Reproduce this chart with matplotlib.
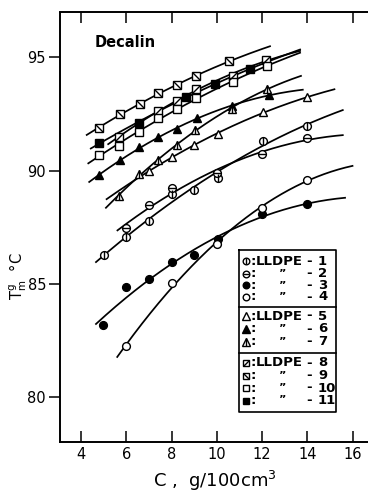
import numpy as np
import matplotlib
matplotlib.use("Agg")
import matplotlib.pyplot as plt
from matplotlib.path import Path

# ---------------- data ----------------
x1 = [5.0, 6.0, 7.0, 8.0, 9.0, 10.05, 12.05, 14.0]
y1 = [86.26, 87.07, 87.78, 88.98, 89.16, 89.69, 91.33, 91.99]
x2 = [6.0, 7.0, 8.0, 10.0, 12.0, 14.0]
y2 = [87.47, 88.50, 89.23, 89.90, 90.72, 91.44]
x3 = [4.95, 6.0, 7.0, 8.0, 9.0, 10.05, 12.0, 14.0]
y3 = [83.18, 84.87, 85.24, 85.97, 86.26, 86.97, 88.10, 88.54]
x4 = [6.0, 8.0, 10.0, 12.0, 14.0]
y4 = [82.26, 85.04, 86.75, 88.37, 89.60]
x5 = [7.0, 8.0, 9.0, 10.05, 12.05, 14.0]
y5 = [89.98, 90.59, 91.15, 91.63, 92.58, 93.24]
x6 = [4.78, 5.71, 6.54, 7.41, 8.25, 9.11, 10.65, 12.3]
y6 = [89.79, 90.45, 91.04, 91.48, 91.85, 92.31, 92.85, 93.34]
x7 = [5.68, 6.54, 7.38, 8.25, 9.03, 10.65, 12.2]
y7 = [88.88, 89.86, 90.45, 91.15, 91.80, 92.70, 93.62]
x8 = [5.68, 7.41, 8.25, 9.08, 10.7, 12.17]
y8 = [91.50, 92.65, 93.09, 93.61, 94.20, 94.88]
x9 = [4.78, 5.71, 6.6, 7.41, 8.25, 9.08, 10.55]
y9 = [91.90, 92.49, 92.93, 93.41, 93.80, 94.19, 94.83]
x10 = [4.78, 5.68, 6.54, 7.41, 8.25, 9.08, 10.7, 12.2]
y10 = [90.71, 91.10, 91.70, 92.33, 92.70, 93.21, 93.91, 94.63]
x11 = [4.8, 6.54, 8.63, 9.92, 11.48]
y11 = [91.22, 92.11, 93.27, 93.82, 94.49]

# extent of each fitted curve (C range)
curve_lo = [4.65, 5.6, 4.65, 5.59, 5.12, 4.35, 5.09, 5.19, 4.24, 4.31, 4.42]
curve_hi = [15.57, 15.57, 15.67, 16.0, 15.2, 13.8, 13.72, 13.68, 12.35, 13.68, 13.68]

series_labels = ["1", "2", "3", "4", "5", "6", "7", "8", "9", "10", "11"]
xticks = [4, 6, 8, 10, 12, 14, 16]
yticks = [80, 85, 90, 95]

# ---------------- marker shapes ----------------
vbar = Path([(0, -1), (0, 1)], [Path.MOVETO, Path.LINETO])
hbar = Path([(-1, 0), (1, 0)], [Path.MOVETO, Path.LINETO])
slash = Path([(-1, -1), (1, 1)], [Path.MOVETO, Path.LINETO])
bslash = Path([(-1, 1), (1, -1)], [Path.MOVETO, Path.LINETO])

# base marker, face colour, overlay path
styles = [
    ("o", "white", vbar),
    ("o", "white", hbar),
    ("o", "black", None),
    ("o", "white", None),
    ("^", "white", None),
    ("^", "black", None),
    ("^", "white", vbar),
    ("s", "white", slash),
    ("s", "white", bslash),
    ("s", "white", None),
    ("s", "black", None),
]
msize = {"o": 5.6, "^": 6.3, "s": 5.3}

xs = [x1, x2, x3, x4, x5, x6, x7, x8, x9, x10, x11]
ys = [y1, y2, y3, y4, y5, y6, y7, y8, y9, y10, y11]

W, H = 368, 494
fig = plt.figure(figsize=(W / 100, H / 100), dpi=100)
ax = fig.add_axes([60 / W, 1 - 441.5 / H, (369 - 60) / W, (441.5 - 12.5) / H])
ax.set_xlim(3.058, 16.73)
ax.set_ylim(78.05, 96.98)

for i in range(11):
    xa = np.array(xs[i]); ya = np.array(ys[i])
    c = np.polyfit(xa, ya, 2)
    xx = np.linspace(curve_lo[i], curve_hi[i], 200)
    ax.plot(xx, np.polyval(c, xx), color="black", lw=1.25, zorder=2)

def draw_markers(axis, x, y, st, transform=None, clip=True, scale=1.0):
    base, face, over = st
    kw = {}
    if transform is not None:
        kw["transform"] = transform
    ms = msize[base] * scale
    axis.plot(x, y, linestyle="none", marker=base, ms=ms, mfc=face,
              mec="black", mew=1.0, zorder=7, clip_on=clip, **kw)
    if over is not None:
        axis.plot(x, y, linestyle="none", marker=over, ms=ms, mfc="none",
                  mec="black", mew=1.0, zorder=8, clip_on=clip, **kw)

for i in range(11):
    draw_markers(ax, xs[i], ys[i], styles[i])

# ---------------- axes styling ----------------
for s in ax.spines.values():
    s.set_linewidth(1.4)
ax.set_xticks(xticks)
ax.set_yticks(yticks)
ax.tick_params(axis="x", which="both", direction="in", length=8, width=1.1,
               top=True, labelsize=10.5, pad=4)
ax.tick_params(axis="y", which="both", direction="out", length=8, width=1.1,
               labelsize=10.5, pad=2)
ax.tick_params(axis="y", right=True)
for t in ax.yaxis.get_ticklines()[1::2]:
    t.set_markersize(7)
ax.set_xlabel("C ,  g/100cm$^3$", fontsize=13, labelpad=5)
fig.text(18 / W, 1 - 276 / H, r"T$_\mathrm{m}^\mathrm{g}$  °C", rotation=90,
         fontsize=10.5, ha="center", va="center")

# ---------------- helpers: reference pixel -> axes fraction ----------------
def fx(px):
    return (px - 60) / 309
def fy(py):
    return 1 - (py - 12.5) / 429

tr = ax.transAxes
ax.text(fx(95), fy(43), "Decalin", transform=tr, fontsize=10.5,
        fontweight="bold", ha="left", va="center")

# ---------------- legend (manual box) ----------------
box_l, box_r = fx(239), fx(336)
box_t, box_b = fy(250), fy(411.5)
ax.plot([box_l, box_r, box_r, box_l, box_l], [box_t, box_t, box_b, box_b, box_t],
        color="black", lw=1.2, transform=tr, clip_on=False, zorder=6)
ax.fill([box_l, box_r, box_r, box_l], [box_t, box_t, box_b, box_b],
        color="white", transform=tr, zorder=5.5, clip_on=False)
for dy in (306.5, 353):
    ax.plot([box_l, box_r], [fy(dy), fy(dy)], color="black", lw=1.2,
            transform=tr, clip_on=False, zorder=6)

rows = [261.5, 273.5, 285.5, 297, 316, 329, 341.5, 363, 375.5, 388, 400.5]
first = {0, 4, 7}
for i, ry in enumerate(rows):
    yy = fy(ry)
    draw_markers(ax, [fx(246)], [yy], styles[i], transform=tr, clip=False,
                 scale=0.85)
    ax.text(fx(251), yy, ":", transform=tr, fontsize=9.5, fontweight="bold",
            ha="left", va="center", zorder=8)
    if i in first:
        ax.text(fx(256), yy, "LLDPE", transform=tr, fontsize=9.5,
                fontweight="bold", ha="left", va="center", zorder=8)
    else:
        ax.text(fx(283), yy, "\u201d", transform=tr, fontsize=8,
                fontweight="bold", ha="center", va="center", zorder=8)
    ax.text(fx(309), yy, "-", transform=tr, fontsize=9.5, fontweight="bold",
            ha="center", va="center", zorder=8)
    ax.text(fx(318), yy, series_labels[i], transform=tr, fontsize=9.5,
            fontweight="bold", ha="left", va="center", zorder=8)

fig.savefig("out.png", dpi=100)
